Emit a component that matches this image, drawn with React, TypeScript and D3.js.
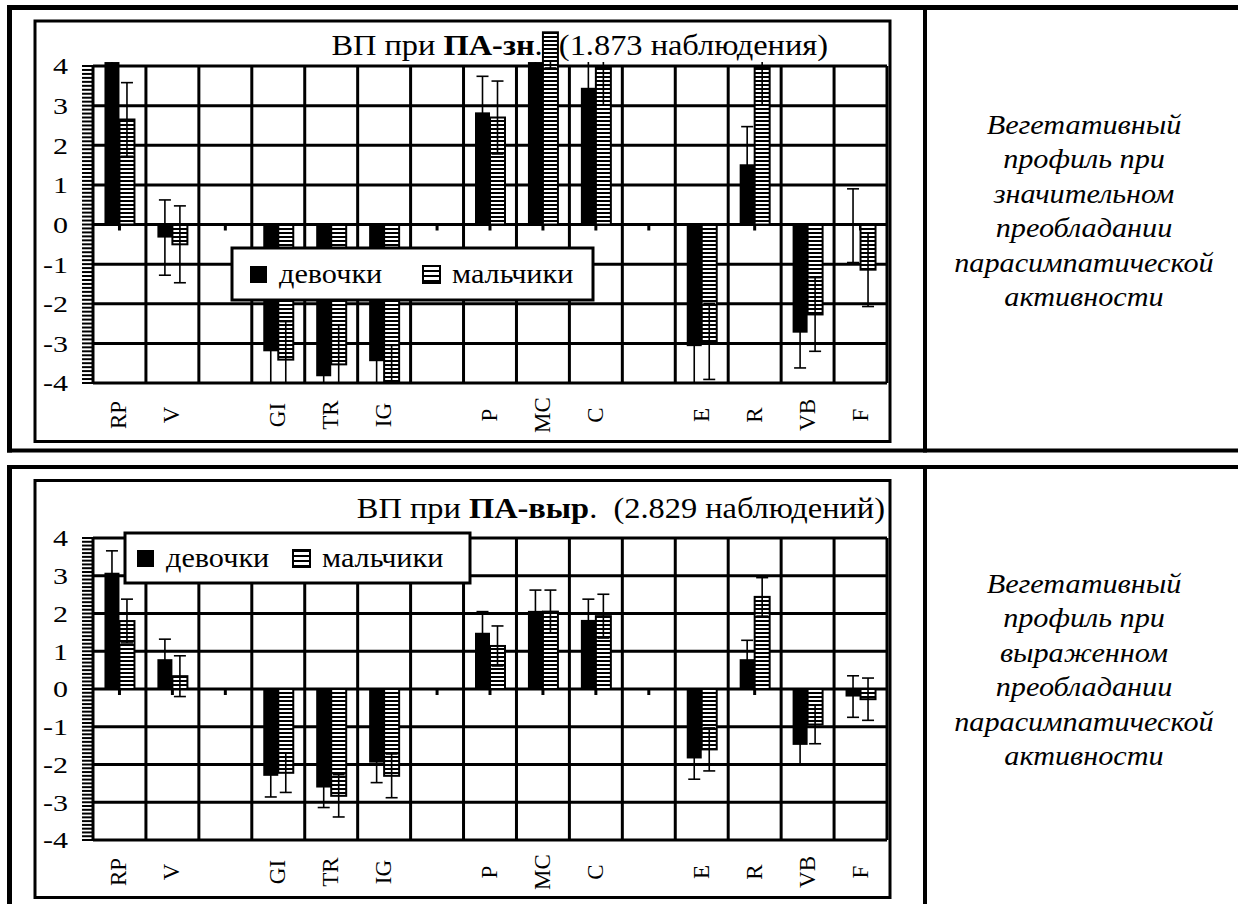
import React from "react";
import * as d3 from "d3";

// категории оси X (пустые строки - промежутки между группами)
const categories = ["RP", "V", "", "GI", "TR", "IG", "", "P", "MC", "C", "", "E", "R", "VB", "F"];
const seriesNames = ["девочки", "мальчики"];
const yTicks = [-4, -3, -2, -1, 0, 1, 2, 3, 4];

// ВП при ПА-зн
const girlsZn = [4.1, -0.33, null, -3.2, -3.83, -3.45, null, 2.83, 4.1, 3.45, null, -3.07, 1.52, -2.73, -0.03];
const girlsZnErr = [0.9, 0.95, null, 0.95, 0.95, 0.95, null, 0.91, 0.9, 0.9, null, 0.95, 0.95, 0.89, 0.93];
const boysZn = [2.65, -0.5, null, -3.41, -3.53, -4.0, null, 2.7, 4.85, 3.97, null, -2.95, 3.97, -2.27, -1.14];
const boysZnErr = [0.93, 0.97, null, 0.96, 1.0, 0.95, null, 0.92, 0.9, 0.95, null, 0.96, 0.95, 0.93, 0.93];

// ВП при ПА-выр
const girlsVyr = [3.08, 0.79, null, -2.3, -2.61, -1.95, null, 1.49, 2.07, 1.83, null, -1.84, 0.79, -1.48, -0.2];
const girlsVyrErr = [0.58, 0.53, null, 0.56, 0.53, 0.53, null, 0.56, 0.55, 0.55, null, 0.55, 0.5, 0.52, 0.55];
const boysVyr = [1.8, 0.34, null, -2.22, -2.83, -2.3, null, 1.14, 2.05, 1.93, null, -1.6, 2.44, -0.94, -0.27];
const boysVyrErr = [0.58, 0.54, null, 0.52, 0.56, 0.58, null, 0.53, 0.57, 0.58, null, 0.57, 0.51, 0.51, 0.56];

const textZn = ["Вегетативный", "профиль при", "значительном", "преобладании", "парасимпатической", "активности"];
const textVyr = ["Вегетативный", "профиль при", "выраженном", "преобладании", "парасимпатической", "активности"];

const FONT = "'Liberation Serif', 'Times New Roman', 'DejaVu Serif', serif";
const SX = 1.08; // текст в оригинале немного растянут по горизонтали

interface PanelProps {
  id: string;
  top: number; // сдвиг панели
  frameH: number;
  plotTop: number;
  plotBottom: number;
  titleY: number;
  titleRight: number;
  titleBold: string;
  titleRest: string;
  girls: (number | null)[];
  girlsErr: (number | null)[];
  boys: (number | null)[];
  boysErr: (number | null)[];
  legend: { x: number; y: number; w: number; h: number; items: number[] };
}

const Panel: React.FC<PanelProps> = (p) => {
  const left = 93, right = 887;
  const x = d3.scaleBand<number>().domain(d3.range(categories.length)).range([left, right]);
  const y = d3.scaleLinear().domain([-4, 4]).range([p.plotBottom, p.plotTop]);
  const bw = 15;
  const y0 = y(0);
  const minor = d3.range(-40, 41).map((d) => d / 10);
  const clipId = "clip-" + p.id;

  const errBar = (cx: number, v: number | null, e: number | null, key: string) => {
    if (v == null || e == null) return null;
    const hi = y(v + e), lo = y(v - e);
    return (
      <g key={key} stroke="#000" strokeWidth={1.6}>
        <line x1={cx} x2={cx} y1={hi} y2={lo} />
        <line x1={cx - 6} x2={cx + 6} y1={hi} y2={hi} />
        <line x1={cx - 6} x2={cx + 6} y1={lo} y2={lo} />
      </g>
    );
  };

  return (
    <g>
      <defs>
        <clipPath id={clipId}>
          <rect x={left} y={p.plotTop - 4} width={right - left} height={p.plotBottom - p.plotTop + 5} />
        </clipPath>
      </defs>
      <rect x={35} y={p.top} width={855} height={p.frameH} fill="#fff" stroke="#000" strokeWidth={3} />

      {/* заголовок */}
      <g transform={`translate(${p.titleRight},${p.titleY}) scale(${SX},1)`}>
        <text textAnchor="end" fontFamily={FONT} fontSize={30} style={{ whiteSpace: "pre" }}>
          ВП при <tspan fontWeight="bold">{p.titleBold}</tspan>{p.titleRest}
        </text>
      </g>

      {/* сетка */}
      {yTicks.map((t) => (
        <line key={"h" + t} x1={left} x2={right} y1={y(t)} y2={y(t)} stroke="#000" strokeWidth={3} />
      ))}
      {d3.range(1, categories.length + 1).map((i) => {
        const gx = left + i * x.bandwidth();
        return <line key={"v" + i} x1={gx} x2={gx} y1={p.plotTop} y2={p.plotBottom} stroke="#000" strokeWidth={3} />;
      })}

      {/* засечки категорий */}
      {categories.map((c, i) => {
        const cx = x(i)! + x.bandwidth() / 2;
        return <line key={"t" + i} x1={cx} x2={cx} y1={y0} y2={y0 + 6} stroke="#000" strokeWidth={3} />;
      })}

      {/* столбики */}
      {p.girls.map((v, i) => {
        if (v == null) return null;
        const cx = x(i)! + x.bandwidth() / 2;
        return <rect key={"g" + i} x={cx - bw} width={bw} y={Math.min(y(v), y0)} height={Math.abs(y(v) - y0)} fill="#000" />;
      })}
      {p.boys.map((v, i) => {
        if (v == null) return null;
        const cx = x(i)! + x.bandwidth() / 2;
        return (
          <rect key={"b" + i} x={cx} width={bw} y={Math.min(y(v), y0)} height={Math.abs(y(v) - y0)}
            fill="url(#hatch)" stroke="#000" strokeWidth={2} />
        );
      })}

      {/* погрешности */}
      <g clipPath={`url(#${clipId})`}>
        {p.girls.map((v, i) => errBar(x(i)! + x.bandwidth() / 2 - bw / 2, v, p.girlsErr[i], "eg" + i))}
        {p.boys.map((v, i) => errBar(x(i)! + x.bandwidth() / 2 + bw / 2, v, p.boysErr[i], "eb" + i))}
      </g>

      {/* ось Y */}
      {minor.map((t) => (
        <line key={"m" + t} x1={left - 11} x2={left} y1={y(t)} y2={y(t)} stroke="#000" strokeWidth={2} />
      ))}
      <line x1={left} x2={left} y1={p.plotTop} y2={p.plotBottom} stroke="#000" strokeWidth={3} />
      {yTicks.map((t) => (
        <g key={"l" + t} transform={`translate(68,${y(t)}) scale(1.25,1)`}>
          <text dy="0.35em" textAnchor="end" fontFamily={FONT} fontSize={24}>{t}</text>
        </g>
      ))}

      {/* подписи категорий */}
      {categories.map((c, i) => {
        const cx = x(i)! + x.bandwidth() / 2;
        return (
          <text key={"c" + i} transform={`translate(${cx + 7},${p.plotBottom + 32}) rotate(-90)`}
            textAnchor="middle" fontFamily={FONT} fontSize={23}>
            {c}
          </text>
        );
      })}

      {/* легенда */}
      <rect x={p.legend.x} y={p.legend.y} width={p.legend.w} height={p.legend.h} fill="#fff" stroke="#000" strokeWidth={3} />
      {seriesNames.map((s, k) => {
        const lx = p.legend.x + p.legend.items[k];
        const cy = p.legend.y + p.legend.h / 2;
        return (
          <g key={s}>
            <rect x={lx} y={cy - 8} width={17} height={17}
              fill={k === 0 ? "#000" : "url(#hatchIcon)"} stroke="#000" strokeWidth={k === 0 ? 0 : 2} />
            <g transform={`translate(${lx + 29},${cy + 9}) scale(${SX},1)`}>
              <text fontFamily={FONT} fontSize={28}>{s}</text>
            </g>
          </g>
        );
      })}
    </g>
  );
};

const SideText: React.FC<{ lines: string[]; y: number }> = ({ lines, y }) => (
  <g>
    {lines.map((l, i) => (
      <g key={i} transform={`translate(1084,${y + i * 34.4}) scale(${SX},1)`}>
        <text textAnchor="middle" fontFamily={FONT} fontStyle="italic" fontSize={28}>{l}</text>
      </g>
    ))}
  </g>
);

export default function App() {
  return (
    <div style={{ position: "absolute", left: 0, top: 0 }}>
      <svg width={1238} height={904} style={{ display: "block", background: "#fff" }}>
        <defs>
          <pattern id="hatch" patternUnits="userSpaceOnUse" width={8} height={4}>
            <rect width={8} height={4} fill="#fff" />
            <rect width={8} height={2} fill="#000" />
          </pattern>
          <pattern id="hatchIcon" patternUnits="userSpaceOnUse" width={8} height={5}>
            <rect width={8} height={5} fill="#fff" />
            <rect width={8} height={2} fill="#000" />
          </pattern>
        </defs>
        <rect width={1238} height={904} fill="#fff" />

        {/* таблица */}
        <line x1={7} x2={1238} y1={7.5} y2={7.5} stroke="#000" strokeWidth={5} />
        <line x1={9.5} x2={9.5} y1={5} y2={452.5} stroke="#000" strokeWidth={5} />
        <line x1={925} x2={925} y1={5} y2={452.5} stroke="#000" strokeWidth={4} />
        <line x1={7} x2={1238} y1={450.5} y2={450.5} stroke="#000" strokeWidth={4} />
        <line x1={7} x2={1238} y1={467} y2={467} stroke="#000" strokeWidth={4} />
        <line x1={9.5} x2={9.5} y1={465} y2={904} stroke="#000" strokeWidth={5} />
        <line x1={925} x2={925} y1={465} y2={904} stroke="#000" strokeWidth={4} />

        <Panel id="zn" top={21} frameH={420.5} plotTop={66} plotBottom={383} titleY={55} titleRight={828}
          titleBold="ПА-зн" titleRest=".  (1.873 наблюдения)"
          girls={girlsZn} girlsErr={girlsZnErr} boys={boysZn} boysErr={boysZnErr}
          legend={{ x: 232, y: 248, w: 361, h: 52, items: [18, 191] }} />
        <Panel id="vyr" top={480.5} frameH={417} plotTop={538} plotBottom={840} titleY={518} titleRight={885}
          titleBold="ПА-выр" titleRest=".  (2.829 наблюдений)"
          girls={girlsVyr} girlsErr={girlsVyrErr} boys={boysVyr} boysErr={boysVyrErr}
          legend={{ x: 125, y: 533, w: 345, h: 50, items: [12, 168] }} />

        <SideText lines={textZn} y={134} />
        <SideText lines={textVyr} y={593} />
      </svg>
    </div>
  );
}
